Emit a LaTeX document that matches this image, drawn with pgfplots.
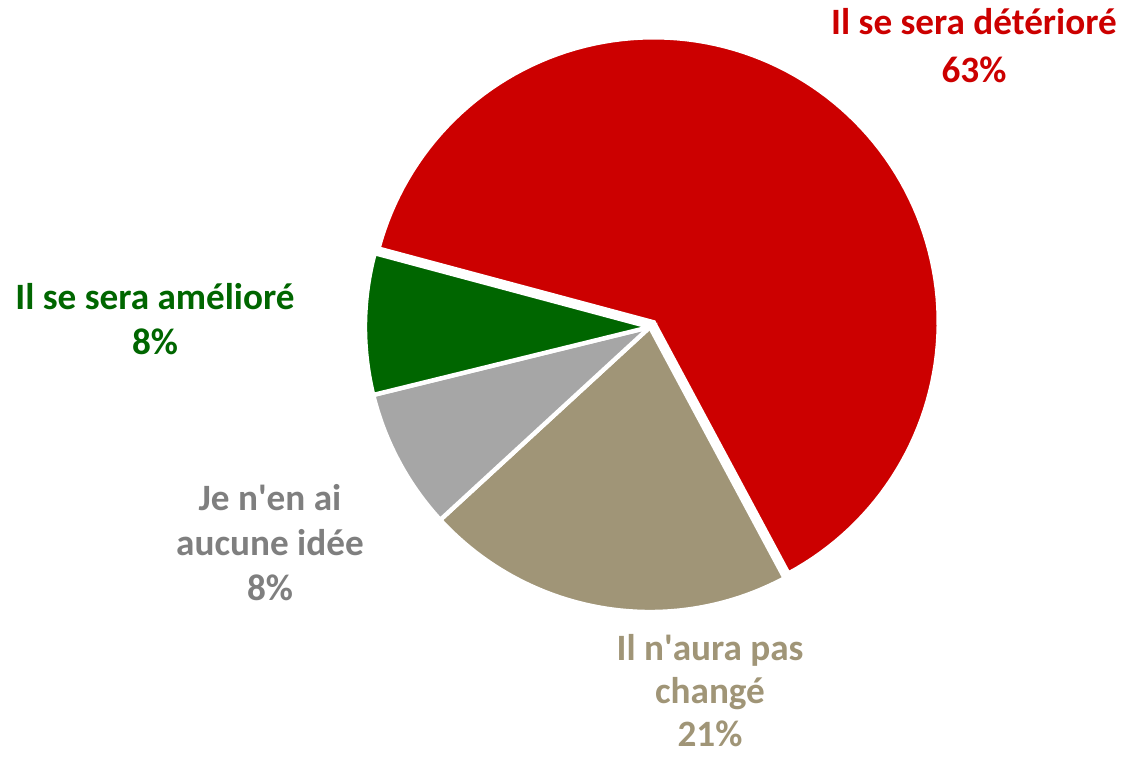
\documentclass[border=0pt]{standalone}
\usepackage{pgfplots}
\pgfplotsset{compat=1.18}
\usepackage{fontspec}
\setmainfont{Carlito}

\definecolor{cred}{HTML}{CC0000}
\definecolor{cgreen}{HTML}{006600}
\definecolor{cgrey}{HTML}{A6A6A6}
\definecolor{cbeige}{HTML}{A09577}
\definecolor{tgrey}{HTML}{7F7F7F}

% pie centre and radius in pixel units of the 1123x757 frame
\def\cx{650}\def\cy{430}\def\r{285}

% #1 start angle, #2 percent, #3 colour, #4 explode offset
\newcommand{\slice}[4]{%
  \pgfmathsetmacro\sa{#1}%
  \pgfmathsetmacro\sb{#1-3.6*#2}%
  \pgfmathsetmacro\sm{(\sa+\sb)/2}%
  \pgfmathsetmacro\ox{\cx+#4*cos(\sm)}%
  \pgfmathsetmacro\oy{\cy+#4*sin(\sm)}%
  \edef\doslice{\noexpand\addplot[fill=#3, draw=white, line width=2.2pt,
    line join=miter, domain=\sb:\sa, samples=120, variable=\noexpand\t]
    ({\ox+\r*cos(\noexpand\t)},{\oy+\r*sin(\noexpand\t)})
    -- (axis cs:\ox,\oy) -- cycle;}%
  \doslice
}

\begin{document}
\begin{tikzpicture}
\begin{axis}[name=ax,
  width=561.5pt, height=378.5pt, scale only axis,
  xmin=0, xmax=1123, ymin=0, ymax=757,
  hide axis, clip=false]
% slices clockwise from 165 deg: 63, 21, 8, 8
\slice{165}{63}{cred}{6}
\slice{-61.8}{21}{cbeige}{0}
\slice{-137.4}{8}{cgrey}{0}
\slice{-166.2}{8}{cgreen}{0}

\begin{scope}[every node/.style={align=center, inner sep=0pt, font=\fontsize{18.6}{22.5}\selectfont\bfseries}]
\node[text=cred] at (axis cs:974,711) {Il se sera détérioré\\[1.5pt]63\%};
\node[text=cgreen] at (axis cs:155,438) {Il se sera amélioré\\8\%};
\node[text=tgrey] at (axis cs:270,214) {Je n\textquotesingle en ai\\aucune idée\\8\%};
\node[text=cbeige] at (axis cs:710,66) {Il n\textquotesingle aura pas\\[-1pt]changé\\[-1pt]21\%};
\end{scope}
\end{axis}
\pgfresetboundingbox
\path (ax.south west) rectangle (ax.north east);
\end{tikzpicture}
\end{document}
